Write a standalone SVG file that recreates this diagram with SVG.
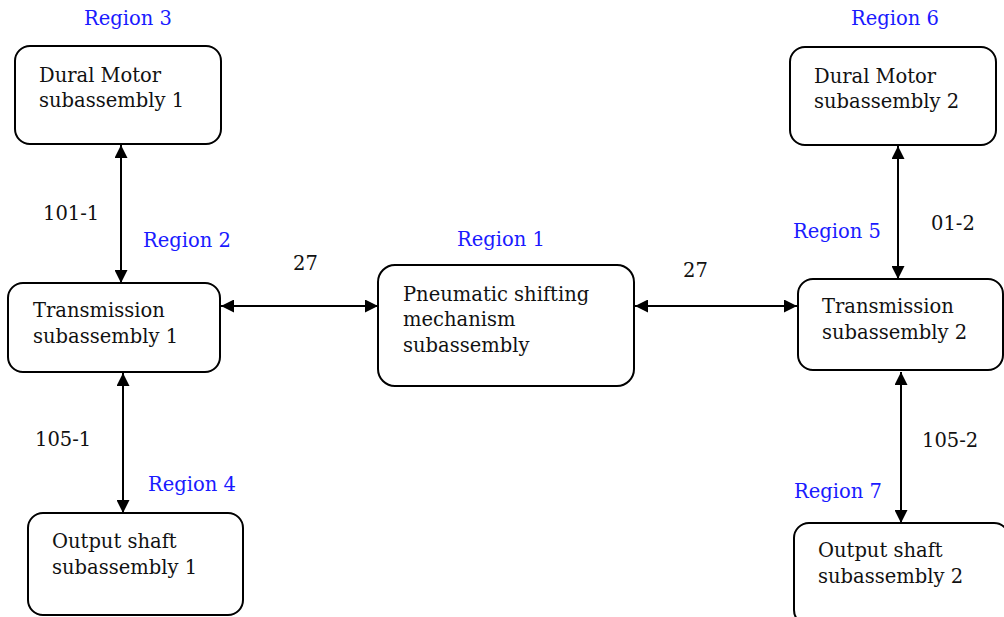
<svg xmlns="http://www.w3.org/2000/svg" width="1004" height="617" viewBox="0 0 1004 617">
<style>
.box{fill:#fff;stroke:#000;stroke-width:2}
.t{font-family:"DejaVu Serif","Liberation Serif",serif;font-size:19.5px;fill:#111}
.r{font-family:"DejaVu Serif","Liberation Serif",serif;font-size:19.5px;fill:#1a1aff}
.c{stroke:#000;stroke-width:2;fill:none;marker-start:url(#a);marker-end:url(#a)}
</style>
<defs>
<marker id="a" viewBox="0 0 13 13" refX="13" refY="6.5" markerWidth="13" markerHeight="13" markerUnits="userSpaceOnUse" orient="auto-start-reverse">
<path d="M0,0 L13,6.5 L0,13 Z" fill="#000"/>
</marker>
</defs>
<rect width="1004" height="617" fill="#fff"/>
<g id="connectors">
<line class="c" x1="121" y1="145" x2="121" y2="283"/>
<line class="c" x1="221" y1="306" x2="378" y2="306"/>
<line class="c" x1="123" y1="373" x2="123" y2="513"/>
<line class="c" x1="635" y1="306" x2="797" y2="306"/>
<line class="c" x1="898" y1="146" x2="898" y2="279"/>
<line class="c" x1="901" y1="372" x2="901" y2="523"/>
</g>
<g id="labels">
<text class="r" x="84" y="25">Region 3</text>
<text class="t" x="43" y="220">101-1</text>
<text class="r" x="143" y="247">Region 2</text>
<text class="t" x="293" y="270">27</text>
<text class="r" x="457" y="246">Region 1</text>
<text class="t" x="683" y="277">27</text>
<text class="r" x="851" y="25">Region 6</text>
<text class="r" x="793" y="238">Region 5</text>
<text class="t" x="931" y="230">01-2</text>
<text class="t" x="35" y="446">105-1</text>
<text class="r" x="148" y="491">Region 4</text>
<text class="t" x="922" y="447">105-2</text>
<text class="r" x="794" y="498">Region 7</text>
</g>
<g id="dural1">
<rect class="box" x="15" y="46" width="206" height="98" rx="15"/>
<text class="t" x="39" y="82">Dural Motor</text>
<text class="t" x="39" y="107">subassembly 1</text>
</g>
<g id="trans1">
<rect class="box" x="8" y="283" width="212" height="89" rx="15"/>
<text class="t" x="33" y="317">Transmission</text>
<text class="t" x="33" y="343">subassembly 1</text>
</g>
<g id="output1">
<rect class="box" x="28" y="513" width="215" height="102" rx="15"/>
<text class="t" x="52" y="548">Output shaft</text>
<text class="t" x="52" y="574">subassembly 1</text>
</g>
<g id="pneumatic">
<rect class="box" x="378" y="265" width="256" height="121" rx="17"/>
<text class="t" x="403" y="301">Pneumatic shifting</text>
<text class="t" x="403" y="326">mechanism</text>
<text class="t" x="403" y="352">subassembly</text>
</g>
<g id="dural2">
<rect class="box" x="790" y="47" width="206" height="98" rx="15"/>
<text class="t" x="814" y="83">Dural Motor</text>
<text class="t" x="814" y="108">subassembly 2</text>
</g>
<g id="trans2">
<rect class="box" x="798" y="279" width="205" height="91" rx="15"/>
<text class="t" x="822" y="313">Transmission</text>
<text class="t" x="822" y="339">subassembly 2</text>
</g>
<g id="output2">
<rect class="box" x="794" y="523" width="215" height="102" rx="15"/>
<text class="t" x="818" y="557">Output shaft</text>
<text class="t" x="818" y="583">subassembly 2</text>
</g>
</svg>
